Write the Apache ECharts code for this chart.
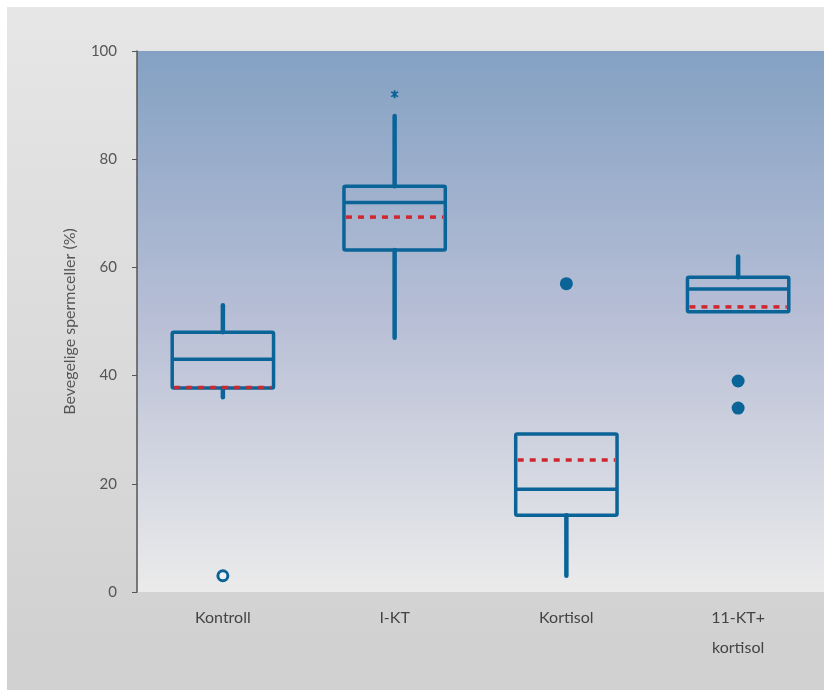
<!DOCTYPE html>
<html>
<head>
<meta charset="utf-8">
<script src="https://cdn.jsdelivr.net/npm/echarts@6/dist/echarts.min.js"></script>
<style>
html,body{margin:0;padding:0;background:#ffffff;}
#c{width:824px;height:690px;}
</style>
</head>
<body>
<div id="c"></div>
<script>
// Data
var categories = ['Kontroll', 'I-KT', 'Kortisol', '11-KT+\nkortisol'];
var whiskerLow = [36, 47, 3, 51.8];
var q1 = [37.7, 63.2, 14.2, 51.8];
var median = [43, 72, 19, 56];
var q3 = [48, 75, 29.2, 58.2];
var whiskerHigh = [53, 88, 29.2, 62];
var means = [37.8, 69.3, 24.4, 52.7];
var openOutliers = [[0, 3]];
var starOutliers = [[1, 92]];
var filledOutliers = [[2, 57], [3, 39], [3, 34]];
var yTicks = [0, 20, 40, 60, 80, 100];

var BLUE = '#0b6498';
var RED = '#d0262d';

var boxData = categories.map(function (c, i) {
  return [i, whiskerLow[i], q1[i], median[i], q3[i], whiskerHigh[i], means[i]];
});

function renderBox(params, api) {
  var i = api.value(0);
  var band = api.size([1, 0])[0];
  var hw = band * 0.295;
  var cx = api.coord([i, 0])[0];
  var yLow = api.coord([i, api.value(1)])[1];
  var yQ1 = api.coord([i, api.value(2)])[1];
  var yMed = api.coord([i, api.value(3)])[1];
  var yQ3 = api.coord([i, api.value(4)])[1];
  var yHigh = api.coord([i, api.value(5)])[1];
  var yMean = api.coord([i, api.value(6)])[1];
  var children = [];
  if (yHigh < yQ3 - 0.5) {
    children.push({type: 'line', shape: {x1: cx, y1: yQ3, x2: cx, y2: yHigh},
      style: {stroke: BLUE, lineWidth: 4.5, lineCap: 'round'}});
  }
  if (yLow > yQ1 + 0.5) {
    children.push({type: 'line', shape: {x1: cx, y1: yQ1, x2: cx, y2: yLow},
      style: {stroke: BLUE, lineWidth: 4.5, lineCap: 'round'}});
  }
  children.push({type: 'rect', shape: {x: cx - hw, y: yQ3, width: hw * 2, height: yQ1 - yQ3, r: 1.5},
    style: {fill: 'none', stroke: BLUE, lineWidth: 3.5}});
  children.push({type: 'line', shape: {x1: cx - hw, y1: yMed, x2: cx + hw, y2: yMed},
    style: {stroke: BLUE, lineWidth: 3.5}});
  children.push({type: 'line', shape: {x1: cx - hw + 2, y1: yMean, x2: cx + hw - 2, y2: yMean},
    style: {stroke: RED, lineWidth: 3.5, lineDash: [6, 6]}});
  return {type: 'group', children: children};
}

var chart = echarts.init(document.getElementById('c'), null, {renderer: 'canvas'});
var FONT = 'Lato, "Open Sans", sans-serif';
var option = {
  animation: false,
  backgroundColor: 'transparent',
  graphic: [{
    type: 'rect', z: -10, silent: true,
    shape: {x: 7, y: 7, width: 817, height: 683},
    style: {fill: new echarts.graphic.LinearGradient(0, 0, 0, 1, [
      {offset: 0, color: '#e6e6e6'}, {offset: 1, color: '#d0d0d0'}])}
  }],
  grid: {
    left: 137, top: 51, right: 0, bottom: 98,
    show: true, borderWidth: 0,
    backgroundColor: new echarts.graphic.LinearGradient(0, 0, 0, 1, [
      {offset: 0, color: '#84a1c3'},
      {offset: 0.5, color: '#b8bfd6'},
      {offset: 1, color: '#ebebeb'}
    ])
  },
  xAxis: {
    type: 'category',
    data: categories,
    boundaryGap: true,
    axisLine: {show: false},
    axisTick: {show: false},
    axisLabel: {color: '#444', fontSize: 16, fontFamily: FONT, margin: 11, lineHeight: 30}
  },
  yAxis: {
    type: 'value',
    min: 0, max: 100, interval: 20,
    name: 'Bevegelige spermceller (%)',
    nameLocation: 'middle',
    nameGap: 59,
    nameTextStyle: {color: '#555', fontSize: 16, fontFamily: FONT},
    axisLine: {show: true, lineStyle: {color: '#555', width: 1.5}},
    axisTick: {show: true, length: 5, lineStyle: {color: '#555'}},
    splitLine: {show: false},
    axisLabel: {color: '#555', fontSize: 15, fontFamily: FONT, margin: 20,
      formatter: function (v) { return yTicks.indexOf(v) >= 0 ? String(v) : ''; }}
  },
  series: [
    {
      type: 'custom',
      renderItem: renderBox,
      data: boxData,
      encode: {x: 0, y: [1, 2, 3, 4, 5]},
      z: 2
    },
    {
      type: 'scatter', data: openOutliers, symbol: 'circle', symbolSize: 10,
      itemStyle: {color: '#f2f2f4', borderColor: BLUE, borderWidth: 3, opacity: 1}, z: 3
    },
    {
      type: 'scatter', data: starOutliers,
      symbol: 'path://M4,0 L6,0 L6,2.6 L8.2,1.2 L9.2,2.8 L7,4 L7,6 L9.2,7.2 L8.2,8.8 L6,7.4 L6,10 L4,10 L4,7.4 L1.8,8.8 L0.8,7.2 L3,6 L3,4 L0.8,2.8 L1.8,1.2 L4,2.6 Z',
      symbolSize: 8,
      itemStyle: {color: BLUE, opacity: 1}, z: 3
    },
    {
      type: 'scatter', data: filledOutliers, symbol: 'circle', symbolSize: 13,
      itemStyle: {color: BLUE, opacity: 1}, z: 3
    }
  ]
};
chart.setOption(option);
</script>
</body>
</html>
